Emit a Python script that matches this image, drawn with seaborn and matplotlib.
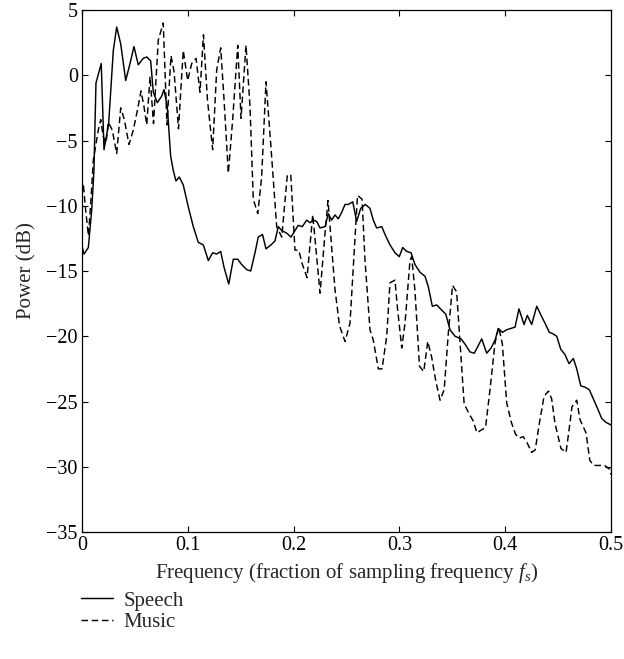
import matplotlib
matplotlib.use("Agg")
import matplotlib.pyplot as plt
import seaborn as sns
import pandas as pd

speech_freq = [0.0, 0.0019, 0.0060, 0.0092, 0.0113, 0.0132, 0.0182, 0.0208, 0.0252, 0.0296,
               0.0328, 0.0366, 0.0413, 0.0454, 0.0491, 0.0532, 0.0579, 0.0612, 0.0649, 0.0674,
               0.0712, 0.0753, 0.0775, 0.0806, 0.0838, 0.0863, 0.0888, 0.0920, 0.0957, 0.1005,
               0.1052, 0.1099, 0.1147, 0.1194, 0.1235, 0.1273, 0.1311, 0.1342, 0.1387, 0.1430,
               0.1472, 0.1509, 0.1557, 0.1595, 0.1635, 0.1666, 0.1706, 0.1739, 0.1786, 0.1824,
               0.1855, 0.1888, 0.1935, 0.1975, 0.2013, 0.2044, 0.2082, 0.2124, 0.2155, 0.2186,
               0.2218, 0.2250, 0.2297, 0.2328, 0.2360, 0.2391, 0.2422, 0.2455, 0.2486, 0.2517,
               0.2559, 0.2596, 0.2634, 0.2678, 0.2722, 0.2753, 0.2785, 0.2833, 0.2864, 0.2911,
               0.2958, 0.2999, 0.3031, 0.3069, 0.3110, 0.3147, 0.3195, 0.3242, 0.3273, 0.3311,
               0.3353, 0.3400, 0.3438, 0.3478, 0.3526, 0.3582, 0.3620, 0.3667, 0.3708, 0.3746,
               0.3778, 0.3825, 0.3866, 0.3904, 0.3935, 0.3973, 0.4014, 0.4055, 0.4093, 0.4130,
               0.4178, 0.4209, 0.4250, 0.4298, 0.4345, 0.4376, 0.4417, 0.4449, 0.4487, 0.4525,
               0.4565, 0.4603, 0.4644, 0.4676, 0.4714, 0.4754, 0.4795, 0.4833, 0.4871, 0.4912,
               0.4953, 0.5000]
speech_power = [-13.1, -13.7, -13.2, -10.3, -7.3, -0.6, 0.9, -5.7, -3.7, 1.9,
                3.7, 2.4, -0.4, 0.9, 2.2, 0.8, 1.3, 1.4, 1.1, -1.3,
                -2.1, -1.6, -1.1, -2.4, -6.2, -7.3, -8.1, -7.8, -8.4, -10.1,
                -11.6, -12.8, -13.0, -14.2, -13.6, -13.7, -13.5, -14.7, -16.0, -14.1,
                -14.1, -14.5, -14.9, -15.0, -13.6, -12.4, -12.2, -13.3, -13.0, -12.7,
                -11.6, -11.9, -12.1, -12.4, -11.9, -11.5, -11.6, -11.1, -11.3, -11.1,
                -11.2, -11.7, -11.6, -10.6, -11.1, -10.7, -11.0, -10.5, -9.9, -9.9,
                -9.7, -11.2, -10.2, -9.9, -10.2, -11.1, -11.7, -11.6, -12.2, -13.0,
                -13.6, -13.9, -13.2, -13.5, -13.6, -14.5, -15.1, -15.4, -16.2, -17.7,
                -17.6, -18.0, -18.3, -19.5, -20.0, -20.2, -20.6, -21.2, -21.3, -20.7,
                -20.2, -21.3, -20.9, -20.3, -19.4, -19.7, -19.5, -19.4, -19.3, -17.9,
                -19.1, -18.4, -19.1, -17.7, -18.5, -19.0, -19.7, -19.8, -20.0, -21.0,
                -21.4, -22.1, -21.7, -22.5, -23.8, -23.9, -24.1, -24.8, -25.5, -26.3,
                -26.6, -26.8]

music_freq = [0.0, 0.0012, 0.0033, 0.0061, 0.0085, 0.0107, 0.0132, 0.0154, 0.0177, 0.0201,
              0.0227, 0.0249, 0.0286, 0.0328, 0.0366, 0.0400, 0.0444, 0.0485, 0.0523, 0.0558,
              0.0586, 0.0612, 0.0643, 0.0676, 0.0721, 0.0768, 0.0803, 0.0841, 0.0870, 0.0912,
              0.0957, 0.0999, 0.1037, 0.1078, 0.1115, 0.1148, 0.1186, 0.1235, 0.1273, 0.1311,
              0.1342, 0.1383, 0.1424, 0.1472, 0.1503, 0.1550, 0.1588, 0.1619, 0.1661, 0.1698,
              0.1739, 0.1786, 0.1840, 0.1888, 0.1940, 0.1973, 0.2013, 0.2049, 0.2079, 0.2127,
              0.2181, 0.2212, 0.2250, 0.2297, 0.2325, 0.2353, 0.2391, 0.2434, 0.2486, 0.2533,
              0.2564, 0.2604, 0.2647, 0.2675, 0.2722, 0.2753, 0.2801, 0.2836, 0.2880, 0.2911,
              0.2958, 0.2980, 0.3022, 0.3053, 0.3100, 0.3116, 0.3147, 0.3190, 0.3230, 0.3268,
              0.3305, 0.3343, 0.3384, 0.3423, 0.3462, 0.3502, 0.3541, 0.3573, 0.3612, 0.3663,
              0.3698, 0.3733, 0.3771, 0.3814, 0.3856, 0.3904, 0.3939, 0.3973, 0.4014, 0.4058,
              0.4097, 0.4130, 0.4171, 0.4209, 0.4250, 0.4284, 0.4322, 0.4367, 0.4409, 0.4439,
              0.4471, 0.4527, 0.4575, 0.4603, 0.4631, 0.4676, 0.4707, 0.4764, 0.4799, 0.4836,
              0.4887, 0.4940, 0.4988, 0.5000]
music_power = [-8.9, -8.3, -10.2, -12.3, -9.5, -6.5, -5.3, -4.2, -3.4, -4.7,
               -5.2, -3.6, -4.2, -6.0, -2.5, -3.4, -5.3, -4.2, -2.7, -1.2,
               -2.4, -3.8, -0.1, -3.7, 2.7, 4.0, -3.8, 1.5, 0.3, -4.1,
               1.9, -0.4, 0.9, 1.3, -1.3, 3.1, -1.9, -5.7, 0.4, 2.1,
               -1.8, -7.5, -3.4, 2.3, -3.3, 2.3, -2.4, -9.5, -10.6, -7.8,
               -0.5, -5.5, -11.6, -12.4, -7.7, -7.6, -13.4, -13.4, -14.4, -15.5,
               -10.7, -13.4, -16.7, -12.1, -9.6, -12.5, -16.4, -19.2, -20.4, -19.0,
               -14.7, -9.2, -9.5, -14.2, -19.5, -20.3, -22.5, -22.5, -20.0, -15.9,
               -15.7, -17.7, -20.9, -19.0, -14.2, -13.9, -16.5, -22.3, -22.7, -20.4,
               -21.6, -23.4, -24.9, -24.1, -19.8, -16.1, -16.6, -20.5, -25.2, -26.0,
               -26.5, -27.4, -27.2, -27.0, -24.1, -20.5, -19.3, -20.6, -25.1, -26.6,
               -27.5, -27.8, -27.7, -28.2, -28.9, -28.7, -26.7, -24.6, -24.2, -24.8,
               -26.7, -28.6, -28.9, -27.2, -25.4, -24.9, -26.4, -27.4, -29.5, -29.9,
               -29.9, -29.9, -30.2, -30.6]

series_names = ["Speech", "Music"]
x_ticks = [0, 0.1, 0.2, 0.3, 0.4, 0.5]
x_tick_labels = ["0", "0.1", "0.2", "0.3", "0.4", "0.5"]
y_ticks = [-35, -30, -25, -20, -15, -10, -5, 0, 5]

df = pd.concat([
    pd.DataFrame({"freq": speech_freq, "power": speech_power, "signal": series_names[0]}),
    pd.DataFrame({"freq": music_freq, "power": music_power, "signal": series_names[1]}),
], ignore_index=True)

sns.set_style("ticks")
plt.rcParams["font.family"] = ["Liberation Serif", "DejaVu Serif"]
plt.rcParams["mathtext.fontset"] = "custom"
plt.rcParams["mathtext.rm"] = "Liberation Serif"
plt.rcParams["mathtext.it"] = "Liberation Serif:italic"
plt.rcParams["axes.unicode_minus"] = True

fig = plt.figure(figsize=(6.24, 6.59), dpi=100)
ax = fig.add_axes([0.1314, 0.1927, 0.8478, 0.7921])

sns.lineplot(data=df, x="freq", y="power", style="signal", hue="signal",
             palette={"Speech": "black", "Music": "black"},
             dashes={"Speech": "", "Music": (4.5, 2.5)},
             estimator=None, sort=False, linewidth=1.05, ax=ax, legend=True)

ax.set_xlim(0, 0.5)
ax.set_ylim(-35, 5)
ax.set_xticks(x_ticks)
ax.set_xticklabels(x_tick_labels)
ax.set_yticks(y_ticks)
ax.tick_params(direction="in", top=True, right=True, length=4, width=0.8,
               labelsize=14.5, colors="black", pad=3)
for s in ax.spines.values():
    s.set_linewidth(0.9)
    s.set_color("black")

ax.set_xlabel("Frequency (fraction of sampling frequency $f_s$)", fontsize=15, labelpad=4)
ax.set_ylabel("Power (dB)", fontsize=15, labelpad=7)

handles, labels = ax.get_legend_handles_labels()
ax.get_legend().remove()
fig.legend(handles, labels, loc="upper left", bbox_to_anchor=(0.13, 0.103),
           frameon=False, fontsize=15, handlelength=1.55, handletextpad=0.5,
           labelspacing=0.1, borderaxespad=0, borderpad=0)

fig.savefig("out.png", dpi=100)
